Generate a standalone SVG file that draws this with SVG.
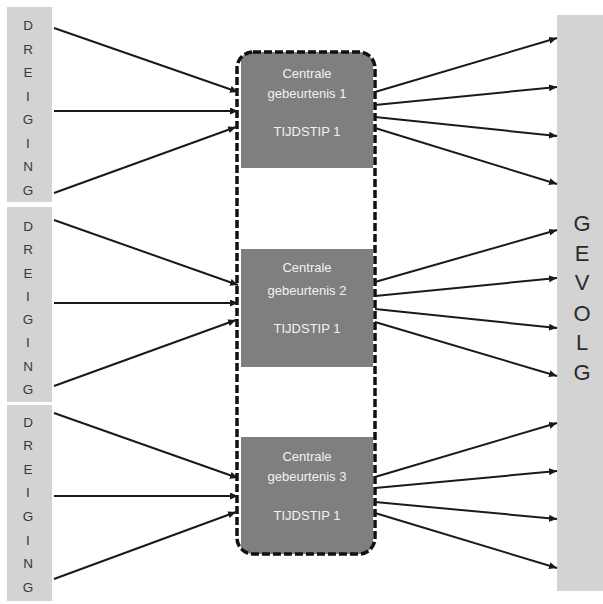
<svg xmlns="http://www.w3.org/2000/svg" width="603" height="604" viewBox="0 0 603 604">
<defs>
<marker id="ah" markerUnits="userSpaceOnUse" markerWidth="8" markerHeight="7" refX="8" refY="3.5" orient="auto">
<path d="M0,0 L8,3.5 L0,7 z" fill="#1a1a1a"/>
</marker>
<clipPath id="frameclip"><rect x="237" y="52" width="138" height="502" rx="16"/></clipPath>
</defs>
<style>
.side{fill:#d3d3d3}
.lt{font-family:"Liberation Sans",Arial,sans-serif;font-size:13.5px;fill:#3a3a3a;text-anchor:middle}
.rt{font-family:"Liberation Sans",Arial,sans-serif;font-size:22px;fill:#2a2a2a;text-anchor:middle}
.ev{fill:#7f7f7f}
.et{font-family:"Liberation Sans",Arial,sans-serif;font-size:13px;fill:#f2f2f2;text-anchor:middle}
.frame{fill:none;stroke:#111;stroke-width:3.5;stroke-dasharray:8 3}
.c line{stroke:#1a1a1a;stroke-width:2;marker-end:url(#ah)}
</style>
<rect width="603" height="604" fill="#fff"/>
<g id="dreiging1">
<rect class="side" x="7" y="7" width="45" height="195"/>
<text class="lt" x="28" y="30">D</text><text class="lt" x="28" y="54">R</text><text class="lt" x="28" y="77">E</text><text class="lt" x="28" y="101">I</text><text class="lt" x="28" y="124">G</text><text class="lt" x="28" y="148">I</text><text class="lt" x="28" y="171">N</text><text class="lt" x="28" y="195">G</text>
</g>
<g id="dreiging2">
<rect class="side" x="7" y="207" width="45" height="195"/>
<text class="lt" x="28" y="231">D</text><text class="lt" x="28" y="254">R</text><text class="lt" x="28" y="278">E</text><text class="lt" x="28" y="301">I</text><text class="lt" x="28" y="324">G</text><text class="lt" x="28" y="347">I</text><text class="lt" x="28" y="371">N</text><text class="lt" x="28" y="394">G</text>
</g>
<g id="dreiging3">
<rect class="side" x="7" y="405" width="45" height="196"/>
<text class="lt" x="28" y="427">D</text><text class="lt" x="28" y="450">R</text><text class="lt" x="28" y="474">E</text><text class="lt" x="28" y="497">I</text><text class="lt" x="28" y="521">G</text><text class="lt" x="28" y="545">I</text><text class="lt" x="28" y="568">N</text><text class="lt" x="28" y="592">G</text>
</g>
<g id="gevolg">
<rect class="side" x="557" y="15" width="46" height="576"/>
<text class="rt" x="582" y="231">G</text><text class="rt" x="582" y="261">E</text><text class="rt" x="582" y="290">V</text><text class="rt" x="582" y="321">O</text><text class="rt" x="582" y="350">L</text><text class="rt" x="582" y="380">G</text>
</g>
<g id="event1">
<rect class="ev" x="241" y="52" width="132" height="116" clip-path="url(#frameclip)"/>
<text class="et" x="307" y="78">Centrale</text>
<text class="et" x="307" y="98">gebeurtenis 1</text>
<text class="et" x="307" y="136">TIJDSTIP 1</text>
</g>
<g id="event2">
<rect class="ev" x="241" y="249" width="132" height="118"/>
<text class="et" x="307" y="272">Centrale</text>
<text class="et" x="307" y="295">gebeurtenis 2</text>
<text class="et" x="307" y="333">TIJDSTIP 1</text>
</g>
<g id="event3">
<rect class="ev" x="241" y="437" width="132" height="117" clip-path="url(#frameclip)"/>
<text class="et" x="307" y="461">Centrale</text>
<text class="et" x="307" y="481">gebeurtenis 3</text>
<text class="et" x="307" y="520">TIJDSTIP 1</text>
</g>
<g id="frame">
<rect class="frame" x="237" y="52" width="138" height="502" rx="16"/>
</g>
<g id="connectors" class="c">
<line x1="54" y1="28" x2="238" y2="92"/>
<line x1="54" y1="111" x2="238" y2="111"/>
<line x1="54" y1="193" x2="236" y2="127"/>
<line x1="54" y1="220" x2="238" y2="285"/>
<line x1="54" y1="303" x2="238" y2="303"/>
<line x1="54" y1="386" x2="236" y2="320"/>
<line x1="54" y1="413" x2="238" y2="478"/>
<line x1="54" y1="496" x2="238" y2="496"/>
<line x1="54" y1="579" x2="236" y2="512"/>
<line x1="375" y1="92" x2="557" y2="38"/>
<line x1="375" y1="105" x2="557" y2="87"/>
<line x1="375" y1="117" x2="557" y2="136"/>
<line x1="375" y1="128" x2="557" y2="184"/>
<line x1="375" y1="282" x2="557" y2="230"/>
<line x1="375" y1="296" x2="557" y2="278"/>
<line x1="375" y1="309" x2="557" y2="328"/>
<line x1="375" y1="322" x2="557" y2="376"/>
<line x1="375" y1="477" x2="557" y2="423"/>
<line x1="375" y1="488" x2="557" y2="471"/>
<line x1="375" y1="502" x2="557" y2="519"/>
<line x1="375" y1="513" x2="557" y2="568"/>
</g>
</svg>
